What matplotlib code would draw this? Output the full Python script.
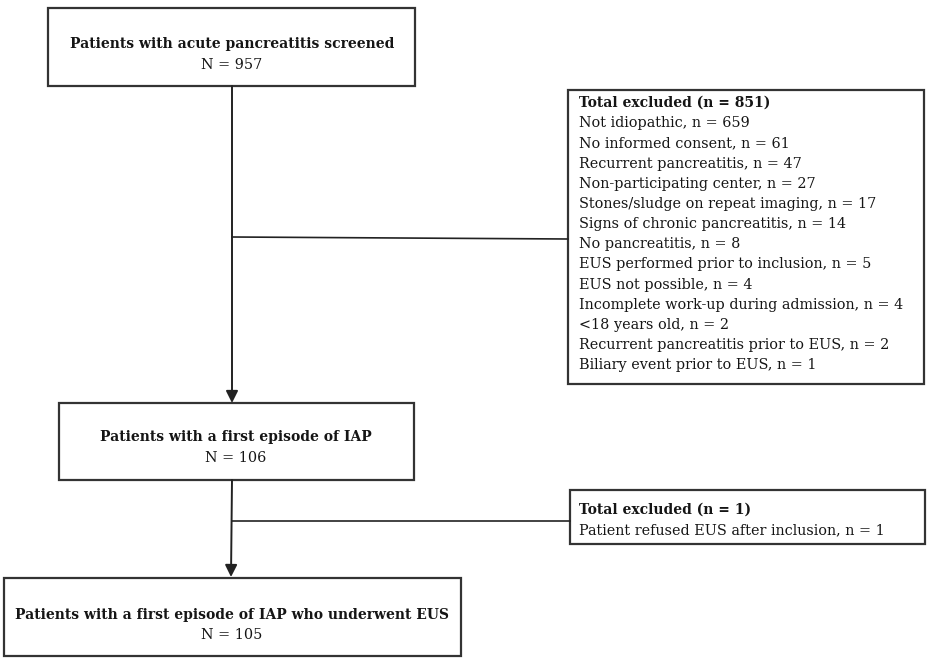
import matplotlib.pyplot as plt
from matplotlib.patches import Rectangle

# flow numbers
n_screened = 957
n_first_iap = 106
n_eus = 105

excl1_reasons = ['Not idiopathic', 'No informed consent', 'Recurrent pancreatitis',
                 'Non-participating center', 'Stones/sludge on repeat imaging',
                 'Signs of chronic pancreatitis', 'No pancreatitis',
                 'EUS performed prior to inclusion', 'EUS not possible',
                 'Incomplete work-up during admission', '<18 years old',
                 'Recurrent pancreatitis prior to EUS', 'Biliary event prior to EUS']
excl1_counts = [659, 61, 47, 27, 17, 14, 8, 5, 4, 4, 2, 2, 1]

excl2_reasons = ['Patient refused EUS after inclusion']
excl2_counts = [1]

plt.rcParams['font.family'] = ['DejaVu Serif']
fs = 10.4   # regular text
fb = 10.0   # bold text

fig = plt.figure(figsize=(9.3, 6.58), dpi=100)
ax = fig.add_axes([0, 0, 1, 1])
ax.set_xlim(0, 930)
ax.set_ylim(658, 0)
ax.axis('off')

edge = '#333333'
txt = '#151515'


def box(x0, y0, x1, y1):
    ax.add_patch(Rectangle((x0, y0), x1 - x0, y1 - y0, fill=False,
                           edgecolor=edge, lw=1.6))


def center_text(xc, y1, y2, title, n):
    ax.text(xc, y1, title, ha='center', va='center', fontsize=fb,
            fontweight='bold', color=txt)
    ax.text(xc, y2, 'N = %d' % n, ha='center', va='center', fontsize=fs,
            color=txt)


# main boxes
box(48, 8, 415, 86)
center_text(232, 44, 65, 'Patients with acute pancreatitis screened', n_screened)
box(59, 403, 414, 480)
center_text(236, 437, 458, 'Patients with a first episode of IAP', n_first_iap)
box(4, 578, 461, 656)
center_text(232, 615, 635, 'Patients with a first episode of IAP who underwent EUS', n_eus)

# exclusion boxes
box(568, 90, 924, 384)
ax.text(579, 103, 'Total excluded (n = %d)' % sum(excl1_counts), ha='left',
        va='center', fontsize=fb, fontweight='bold', color=txt)
for i, (r, c) in enumerate(zip(excl1_reasons, excl1_counts)):
    ax.text(579, 123.3 + i * 20.15, '%s, n = %d' % (r, c), ha='left',
            va='center', fontsize=fs, color=txt)

box(570, 490, 925, 544)
ax.text(579, 510, 'Total excluded (n = %d)' % sum(excl2_counts), ha='left',
        va='center', fontsize=fb, fontweight='bold', color=txt)
for i, (r, c) in enumerate(zip(excl2_reasons, excl2_counts)):
    ax.text(579, 530 + i * 20, '%s, n = %d' % (r, c), ha='left',
            va='center', fontsize=fs, color=txt)

# connectors
arrow = dict(arrowstyle='-|>,head_length=0.6,head_width=0.3', color='#222222',
             lw=1.4, mutation_scale=12, shrinkA=0, shrinkB=0)
ax.annotate('', xy=(232, 403), xytext=(232, 86), arrowprops=arrow)
ax.annotate('', xy=(231, 577), xytext=(232, 480), arrowprops=arrow)
ax.plot([232, 568], [237, 239], color='#222222', lw=1.2)
ax.plot([232, 570], [521, 521], color='#222222', lw=1.2)

fig.savefig('out.png', dpi=100, facecolor='white')
